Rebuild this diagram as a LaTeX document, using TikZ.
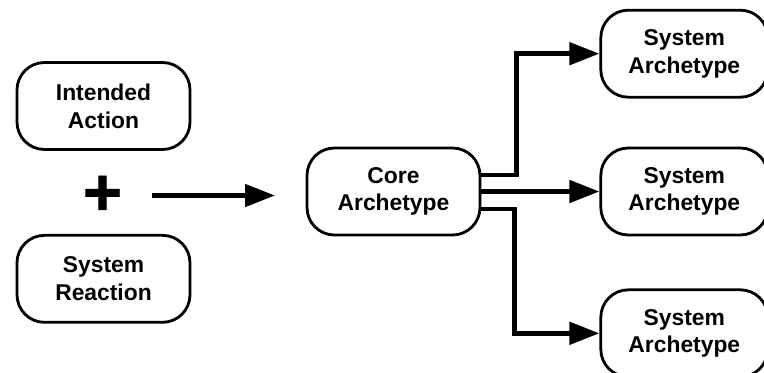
\documentclass[tikz,border=0pt]{standalone}
\usepackage{fontspec}
\setmainfont{Liberation Sans}
\newfontfamily\plusfont[FakeBold=1.2]{Liberation Sans Bold}
\usepackage{tikz}
\usetikzlibrary{arrows.meta, positioning}

\begin{document}
\begin{tikzpicture}[
    node distance=0.96cm and 2.36cm,
    box/.style={rectangle, draw, rounded corners=0.55cm, line width=1.6pt,
                minimum height=1.74cm, minimum width=3.46cm, align=center,
                font=\bfseries\fontsize{13}{15.8}\selectfont},
    outbox/.style={box, minimum width=3.34cm},
    plusmark/.style={inner sep=0pt, font=\plusfont\fontsize{38}{38}\selectfont},
    arrow/.style={-{Triangle[length=0.6cm, width=0.44cm]}, line width=2.8pt}
]
    \useasboundingbox (0,0) rectangle (15.28,7.44);

    \node[box] (intended) at (2.07,5.32) {Intended\\Action};
    \node[box, below=1.66cm of intended] (reaction) {System\\Reaction};
    \node[plusmark] (plus) at (2.05,3.53) {+};
    \coordinate (flowend) at (5.5,3.6);

    \node[box] (core) at (7.87,3.61) {Core\\Archetype};
    \node[outbox, right=of core] (sa2) {System\\Archetype};
    \node[outbox, above=of sa2] (sa1) {System\\Archetype};
    \node[outbox, below=1.04cm of sa2] (sa3) {System\\Archetype};

    \draw[arrow] ([xshift=0.6cm]plus.east) -- (plus.east -| flowend);
    \draw[arrow] ([yshift=0.33cm]core.east) -- ++(0.7,0) |- (sa1);
    \draw[arrow] (core) -- (sa2);
    \draw[arrow] ([yshift=-0.35cm]core.east) -- ++(0.66,0) |- (sa3);
\end{tikzpicture}
\end{document}
